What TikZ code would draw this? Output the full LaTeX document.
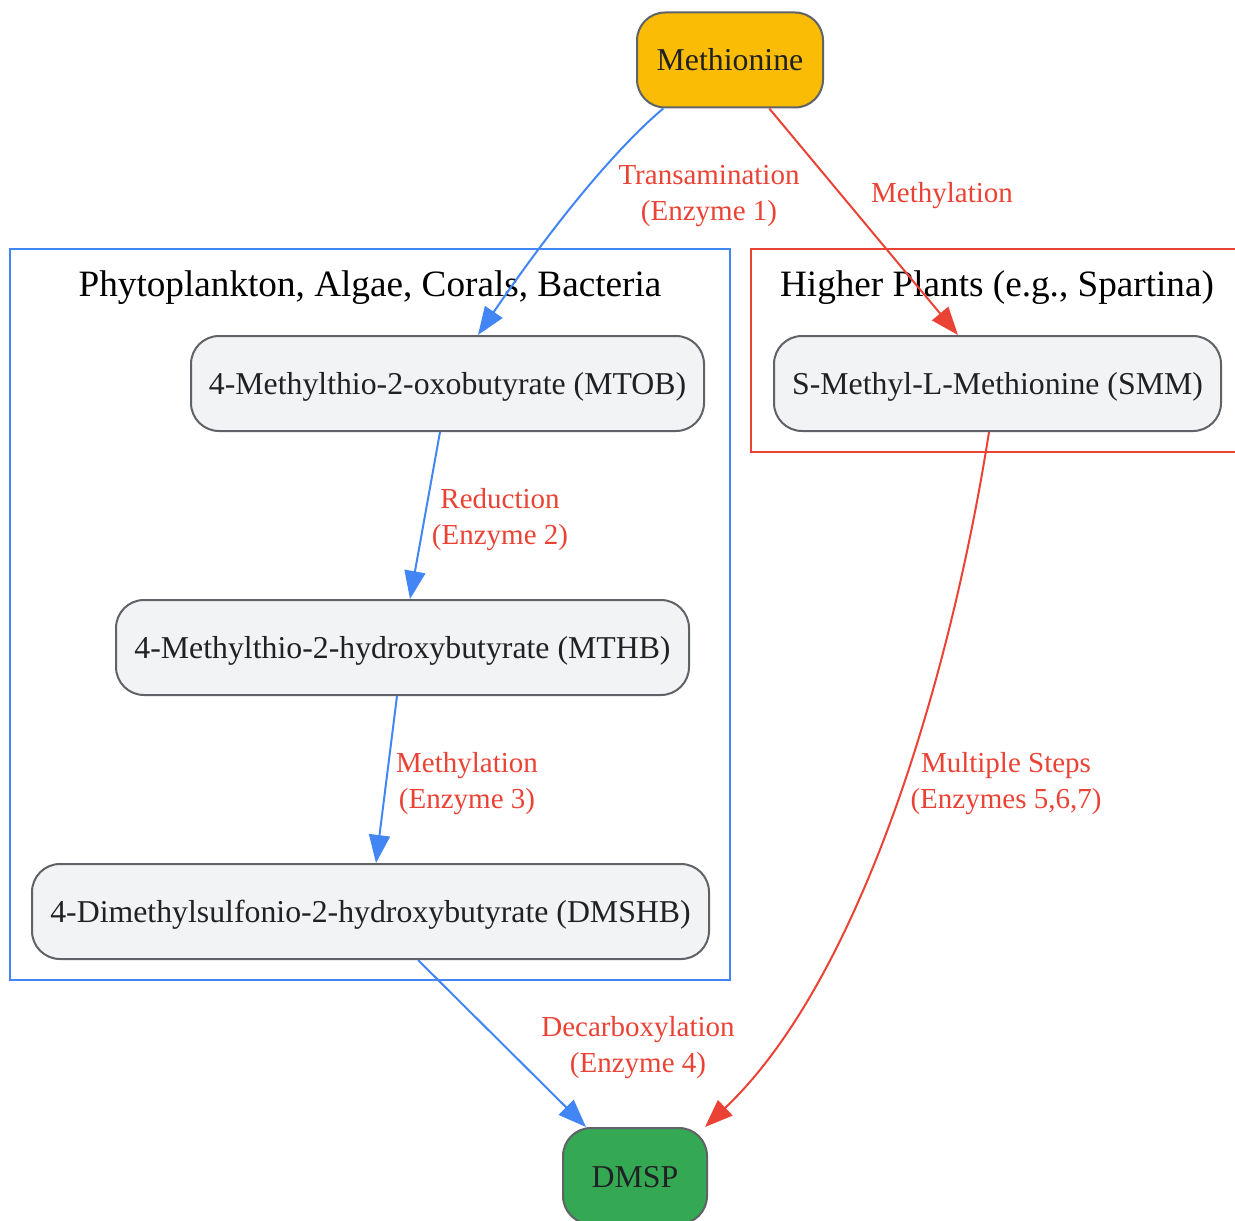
\documentclass[tikz,border=0pt]{standalone}
\usepackage{fontspec}
\setmainfont{Liberation Serif}
\usepackage{tikz}
\usetikzlibrary{arrows.meta}
\definecolor{methyellow}{HTML}{FBBC05}
\definecolor{dmspgreen}{HTML}{34A853}
\definecolor{pathblue}{HTML}{4285F4}
\definecolor{pathred}{HTML}{EA4335}
\definecolor{boxfill}{HTML}{F1F3F4}
\definecolor{boxline}{HTML}{5F6368}
\definecolor{boxtext}{HTML}{202124}
\tikzset{
	compound/.style={draw=boxline, fill=boxfill, text=boxtext, line width=1pt, rounded corners=14pt, minimum height=47.5pt, inner sep=0pt, text height=11pt, text depth=0pt, font=\fontsize{15.9pt}{19pt}\selectfont},
	steplabel/.style={text=pathred, align=center, inner sep=0pt, font=\fontsize{14.5pt}{18pt}\selectfont},
	grouplabel/.style={text=black, inner sep=0pt, font=\fontsize{18.6pt}{22pt}\selectfont},
	blueline/.style={draw=pathblue, line width=1pt, -{Triangle[length=14pt,width=10.5pt]}},
	redline/.style={draw=pathred, line width=1pt, -{Triangle[length=14pt,width=10.5pt]}}
}

\begin{document}
\begin{tikzpicture}[x=0.5pt, y=-0.5pt]
		%%%%% START %%%%%
		\clip (0, 0) rectangle (1235, 1220);
		
		\draw[pathblue, line width=1pt] (10, 249) rectangle (730, 980);
		\draw[pathred, line width=1pt] (751, 249) rectangle (1245, 452);
		\node[grouplabel] (marine) at (370, 288) {Phytoplankton, Algae, Corals, Bacteria};
		\node[grouplabel] (plants) at (997, 288) {Higher Plants (e.g., Spartina)};
		
		\node[compound, fill=methyellow, minimum width=93pt] (meth) at (730, 60) {Methionine};
		\node[compound, minimum width=256.5pt] (mtob) at (447.5, 383.5) {4-Methylthio-2-oxobutyrate (MTOB)};
		\node[compound, minimum width=223.5pt] (smm) at (997.5, 383.5) {S-Methyl-L-Methionine (SMM)};
		\node[compound, minimum width=286.5pt] (mthb) at (402.5, 647.5) {4-Methylthio-2-hydroxybutyrate (MTHB)};
		\node[compound, minimum width=338.5pt] (dmshb) at (370.5, 911.5) {4-Dimethylsulfonio-2-hydroxybutyrate (DMSHB)};
		\node[compound, fill=dmspgreen, minimum width=72pt, minimum height=48pt] (dmsp) at (635, 1176) {DMSP};
		
		\node[steplabel] (transam) at (709, 196) {Transamination\\(Enzyme 1)};
		\node[steplabel] (methyl) at (942, 196) {Methylation};
		\node[steplabel] (reduct) at (500, 520) {Reduction\\(Enzyme 2)};
		\node[steplabel] (methylb) at (467, 784) {Methylation\\(Enzyme 3)};
		\node[steplabel] (decarb) at (638, 1048) {Decarboxylation\\(Enzyme 4)};
		\node[steplabel] (multi) at (1006, 784) {Multiple Steps\\(Enzymes 5,6,7)};
		
		\draw[blueline] (meth.216) .. controls (620, 145) and (560, 215) .. ([xshift=15.25pt]mtob.north);
		\draw[redline] (meth.309) -- ([xshift=-19.75pt]smm.north);
		\draw[blueline] ([xshift=-3.75pt]mtob.south) -- ([xshift=3.75pt]mthb.north);
		\draw[blueline] ([xshift=-2.75pt]mthb.south) -- ([xshift=2.75pt]dmshb.north);
		\draw[blueline] ([xshift=23.75pt]dmshb.south) -- (dmsp.135);
		\draw[redline] ([xshift=-4.25pt]smm.south) .. controls (950, 680) and (860, 980) .. (dmsp.35);
		
		%%%%% END %%%%%
	\end{tikzpicture}
\end{document}
